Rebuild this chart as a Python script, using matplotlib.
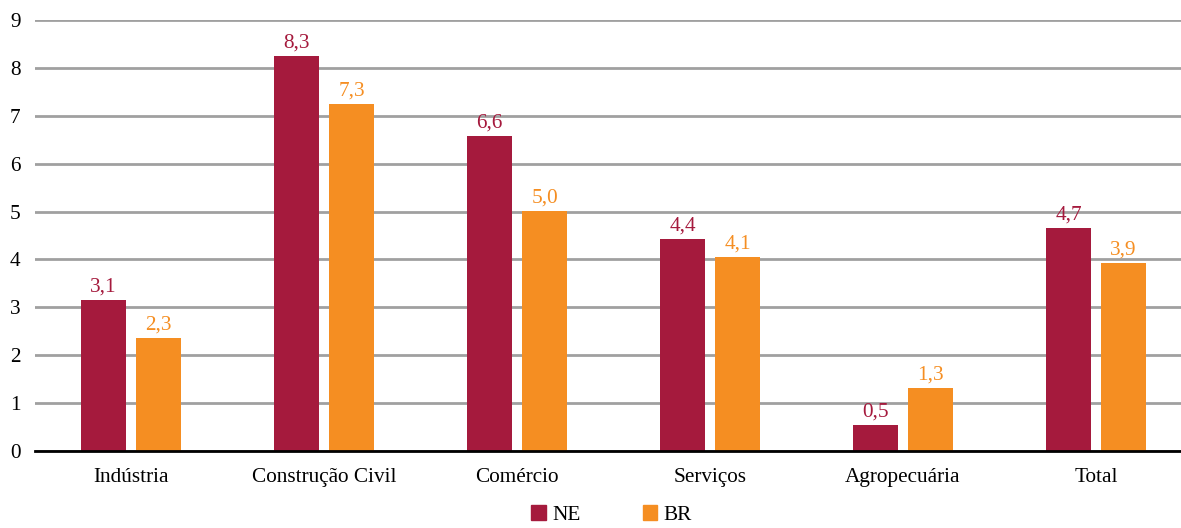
import matplotlib
matplotlib.use('Agg')
import matplotlib.pyplot as plt
from matplotlib.patches import Patch
import numpy as np

# data
categories = ['Indústria', 'Construção Civil', 'Comércio', 'Serviços', 'Agropecuária', 'Total']
ne_values = [3.15, 8.25, 6.58, 4.43, 0.54, 4.66]
br_values = [2.37, 7.24, 5.02, 4.05, 1.31, 3.93]
ne_labels = ['3,1', '8,3', '6,6', '4,4', '0,5', '4,7']
br_labels = ['2,3', '7,3', '5,0', '4,1', '1,3', '3,9']
yticks = [0, 1, 2, 3, 4, 5, 6, 7, 8, 9]

ne_color = '#A51A3D'
br_color = '#F58E22'

plt.rcParams['font.family'] = ['Liberation Serif', 'DejaVu Serif']
fs = 15.3

fig = plt.figure(figsize=(11.81, 5.28), dpi=100)
ax = fig.add_axes([34.5 / 1181, 0.1458, 1158 / 1181, 0.8163])

x = np.arange(len(categories))
w = 0.233
off = 0.1425
ax.bar(x - off, ne_values, w, color=ne_color, zorder=3)
ax.bar(x + off, br_values, w, color=br_color, zorder=3)

for xi, v, lab in zip(x, ne_values, ne_labels):
    ax.text(xi - off, v + 0.07, lab, ha='center', va='bottom', color=ne_color, fontsize=fs)
for xi, v, lab in zip(x, br_values, br_labels):
    ax.text(xi + off, v + 0.07, lab, ha='center', va='bottom', color=br_color, fontsize=fs)

ax.set_xlim(-0.5, len(categories) - 0.5)
ax.set_ylim(0, 9)
ax.set_yticks(yticks)
ax.set_yticklabels([str(t) for t in yticks], fontsize=fs)
ax.set_xticks(x)
ax.set_xticklabels(categories, fontsize=fs)
ax.tick_params(axis='y', length=0, pad=10)
ax.tick_params(axis='x', length=0, pad=12)

ax.grid(axis='y', color='#a0a0a0', linewidth=2, zorder=0)
for s in ['top', 'right', 'left']:
    ax.spines[s].set_visible(False)
ax.spines['bottom'].set_color('black')
ax.spines['bottom'].set_linewidth(2)
ax.spines['bottom'].set_zorder(4)

handles = [Patch(color=ne_color, label='NE'), Patch(color=br_color, label='BR')]
fig.legend(handles=handles, loc='center', bbox_to_anchor=(0.518, 0.024), ncol=2,
           frameon=False, fontsize=fs, handlelength=0.7, handleheight=0.7,
           handletextpad=0.3, columnspacing=2.9)

plt.savefig('out.png', dpi=100)
